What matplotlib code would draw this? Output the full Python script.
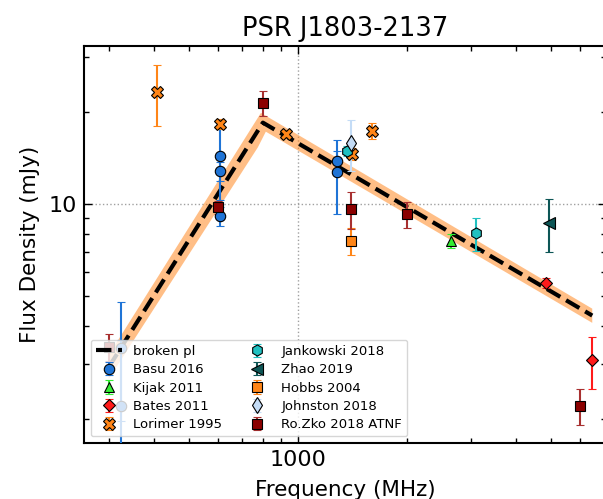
import numpy as np
import matplotlib
matplotlib.use("Agg")
import matplotlib.pyplot as plt

# ---- fit (broken power law) vertices and uncertainty band ----
fit_freq = [300, 800, 6500]
fit_flux = [2.94, 18.4, 4.33]
band_up_freq = [300, 790, 6500]
band_up_flux = [3.22, 19.8, 4.56]
band_lo_freq = [300, 775, 815, 6500]
band_lo_flux = [2.69, 15.3, 17.2, 4.10]

# ---- data sets ----
basu_f = [325, 325, 610, 610, 610, 1280, 1280]
basu_s = [3.39, 2.20, 14.3, 12.8, 9.14, 13.8, 12.7]
basu_e = [1.42, 1.40, 4.0, 0.9, 0.66, 1.1, 3.4]

kijak_f = [2640]
kijak_s = [7.58]
kijak_e = [0.4]

bates_f = [4850, 6500]
bates_s = [5.52, 3.10]
bates_e = [0.2, 0.6]

lorimer_f = [408, 610, 925, 1410, 1600]
lorimer_s = [23.2, 18.2, 16.9, 14.55, 17.3]
lorimer_e = [5.2, 0.7, 0.5, 0.65, 1.0]

jank_f = [1369, 3100]
jank_s = [14.9, 8.03]
jank_e = [0.6, 1.0]

zhao_f = [4940]
zhao_s = [8.65]
zhao_e = [1.7]

hobbs_f = [1400]
hobbs_s = [7.58]
hobbs_e = [0.75]

johnston_f = [1400]
johnston_s = [15.8]
johnston_e = [3.0]

rozko_f = [300, 600, 800, 1400, 2000, 6000]
rozko_s = [3.43, 9.75, 21.4, 9.61, 9.28, 2.20]
rozko_e = [0.35, 0.5, 2.0, 1.3, 0.9, 0.3]

fig = plt.figure(figsize=(6.03, 4.99), dpi=100)
W, H = 603.0, 499.0
ax = fig.add_axes([84 / W, 1 - 443 / H, (606 - 84) / W, (443 - 46) / H])
ax.set_xscale('log')
ax.set_yscale('log')

# band
poly_x = list(band_up_freq) + list(band_lo_freq[::-1])
poly_y = list(band_up_flux) + list(band_lo_flux[::-1])
ax.fill(poly_x, poly_y, color='#ff7f0e', alpha=0.5, lw=0, zorder=2)
ax.plot(fit_freq, fit_flux, color='k', ls='--', lw=3, label='broken pl', zorder=3)

ms = 7.5
common = dict(mec='k', mew=0.8, capsize=3, elinewidth=1.5, capthick=1.5, ls='none', zorder=4)
ax.errorbar(basu_f, basu_s, yerr=basu_e, fmt='o', color='#1f74d6', ms=ms, label='Basu 2016', **common)
ax.errorbar(kijak_f, kijak_s, yerr=kijak_e, fmt='^', color='#33ee33', ms=ms, label='Kijak 2011', **common)
ax.errorbar(bates_f, bates_s, yerr=bates_e, fmt='D', color='#ff1a1a', ms=6.5, label='Bates 2011', **common)
ax.errorbar(lorimer_f, lorimer_s, yerr=lorimer_e, fmt='X', color='#ff8517', ms=9, label='Lorimer 1995', **common)
ax.errorbar(jank_f, jank_s, yerr=jank_e, fmt='h', color='#20c0c0', ms=8, label='Jankowski 2018', **common)
ax.errorbar(zhao_f, zhao_s, yerr=zhao_e, fmt='<', color='#0d5656', ms=8, label='Zhao 2019', **common)
ax.errorbar(hobbs_f, hobbs_s, yerr=hobbs_e, fmt='s', color='#ff8517', ms=7, label='Hobbs 2004', **common)
ax.errorbar(johnston_f, johnston_s, yerr=johnston_e, fmt='d', color='#c4dcf6', ms=8.5, label='Johnston 2018', **common)
ax.errorbar(rozko_f, rozko_s, yerr=rozko_e, fmt='s', color='#8b0000', ecolor='#a83030', ms=7, label='Ro.Zko 2018 ATNF', **common)

ax.set_xlim(256.4, 7094)
ax.set_ylim(1.665, 32.7)

ax.tick_params(which='both', direction='in', top=True, right=True, labelsize=16, pad=5)
ax.tick_params(which='major', length=6, width=1)
ax.tick_params(which='minor', length=3.5, width=1)
ax.set_xticks([1000])
ax.set_xticklabels(['1000'])
ax.set_yticks([10])
ax.set_yticklabels(['10'])
ax.xaxis.set_minor_formatter(matplotlib.ticker.NullFormatter())
ax.yaxis.set_minor_formatter(matplotlib.ticker.NullFormatter())
ax.grid(True, which='major', ls=':', color='#a0a0a0', lw=1)
for s in ax.spines.values():
    s.set_linewidth(1.5)

ax.set_xlabel('Frequency (MHz)', fontsize=15.5, labelpad=7)
ax.set_ylabel('Flux Density (mJy)', fontsize=15.5, labelpad=6)
ax.set_title('PSR J1803-2137', fontsize=18.5, pad=7)

ax.legend(loc='lower left', ncol=2, fontsize=9.5, framealpha=0.8,
          columnspacing=1.7, handlelength=2.0, labelspacing=0.4)

fig.savefig('out.png', dpi=100)
